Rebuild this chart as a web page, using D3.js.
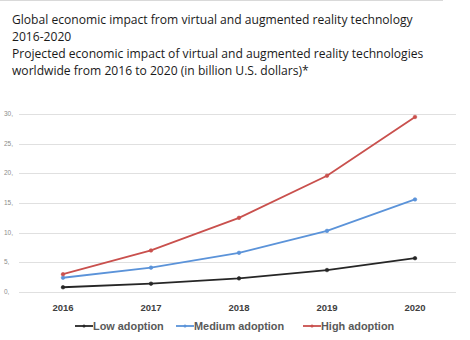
<!DOCTYPE html>
<meta charset="utf-8">
<head>
  <title>VR/AR economic impact</title>
  <script src="https://cdn.jsdelivr.net/npm/d3@7"></script>
  <style>
    body { margin: 0; background: #fff; }
    .grid line { stroke: #e0e0e0; stroke-width: 1; }
    .title { font-family: "Open Sans", sans-serif; font-size: 12.1px; fill: #1a1a1a; }
    .ytick { font-family: "Liberation Sans", sans-serif; font-size: 6.5px; fill: #8c8c8c; }
    .xtick { font-family: "Liberation Sans", sans-serif; font-size: 9.5px; font-weight: bold; fill: #404040; }
    .legend text { font-family: "Liberation Sans", sans-serif; font-size: 10.9px; font-weight: bold; fill: #595959; }
  </style>
</head>
<body>
  <svg width="470" height="340"></svg>
  <script>
    const years = ["2016", "2017", "2018", "2019", "2020"];
    const lowAdoption = [0.8, 1.4, 2.3, 3.7, 5.7];
    const mediumAdoption = [2.4, 4.1, 6.6, 10.3, 15.6];
    const highAdoption = [3.0, 7.0, 12.5, 19.6, 29.5];
    const yTicks = [0, 5, 10, 15, 20, 25, 30];
    const seriesNames = ["Low adoption", "Medium adoption", "High adoption"];
    const seriesColors = ["#262626", "#5b93d9", "#c9504d"];
    const titleLines = [
      "Global economic impact from virtual and augmented reality technology",
      "2016-2020",
      "Projected economic impact of virtual and augmented reality technologies",
      "worldwide from 2016 to 2020 (in billion U.S. dollars)*"
    ];

    const svg = d3.select("svg");

    // thin frame line at top
    svg.append("line")
      .attr("x1", 0).attr("x2", 443).attr("y1", 0.5).attr("y2", 0.5)
      .attr("stroke", "#d9d9d9");

    svg.append("g").selectAll("text")
      .data(titleLines)
      .enter().append("text")
        .attr("class", "title")
        .attr("x", 12)
        .attr("y", function(d, i) { return 24 + i * 17; })
        .text(function(d) { return d; });

    const x = d3.scaleBand().domain(years).range([19, 459]);
    const y = d3.scaleLinear().domain([0, 30]).range([292, 114]);

    const grid = svg.append("g").attr("class", "grid");
    grid.selectAll("line")
      .data(yTicks)
      .enter().append("line")
        .attr("x1", 19).attr("x2", 456)
        .attr("y1", function(d) { return Math.round(y(d)) + 0.5; })
        .attr("y2", function(d) { return Math.round(y(d)) + 0.5; });

    svg.append("g").selectAll("text")
      .data(yTicks)
      .enter().append("text")
        .attr("class", "ytick")
        .attr("x", 4)
        .attr("y", function(d) { return y(d) + 2; })
        .text(function(d) { return d + ","; });

    svg.append("g").selectAll("text")
      .data(years)
      .enter().append("text")
        .attr("class", "xtick")
        .attr("text-anchor", "middle")
        .attr("x", function(d) { return x(d) + x.bandwidth() / 2; })
        .attr("y", 311)
        .text(function(d) { return d; });

    const series = [lowAdoption, mediumAdoption, highAdoption];
    const line = d3.line()
      .x(function(d, i) { return x(years[i]) + x.bandwidth() / 2; })
      .y(function(d) { return y(d); });

    series.forEach(function(vals, s) {
      svg.append("path")
        .datum(vals)
        .attr("fill", "none")
        .attr("stroke", seriesColors[s])
        .attr("stroke-width", 1.8)
        .attr("d", line);
      svg.append("g").selectAll("circle")
        .data(vals)
        .enter().append("circle")
          .attr("cx", function(d, i) { return x(years[i]) + x.bandwidth() / 2; })
          .attr("cy", function(d) { return y(d); })
          .attr("r", 1.8)
          .attr("fill", seriesColors[s])
          .attr("stroke", seriesColors[s])
          .attr("stroke-opacity", 0.6);
    });

    // legend
    const legendX = [75, 176, 303];
    const legend = svg.append("g").attr("class", "legend");
    seriesNames.forEach(function(name, s) {
      const g = legend.append("g").attr("transform", "translate(" + legendX[s] + ",326)");
      g.append("line").attr("x1", 0).attr("x2", 18).attr("y1", 0).attr("y2", 0)
        .attr("stroke", seriesColors[s]).attr("stroke-width", 1.8);
      g.append("circle").attr("cx", 9).attr("cy", 0).attr("r", 1.5).attr("fill", seriesColors[s]);
      g.append("text").attr("x", 18).attr("y", 4).text(name);
    });
  </script>
</body>
